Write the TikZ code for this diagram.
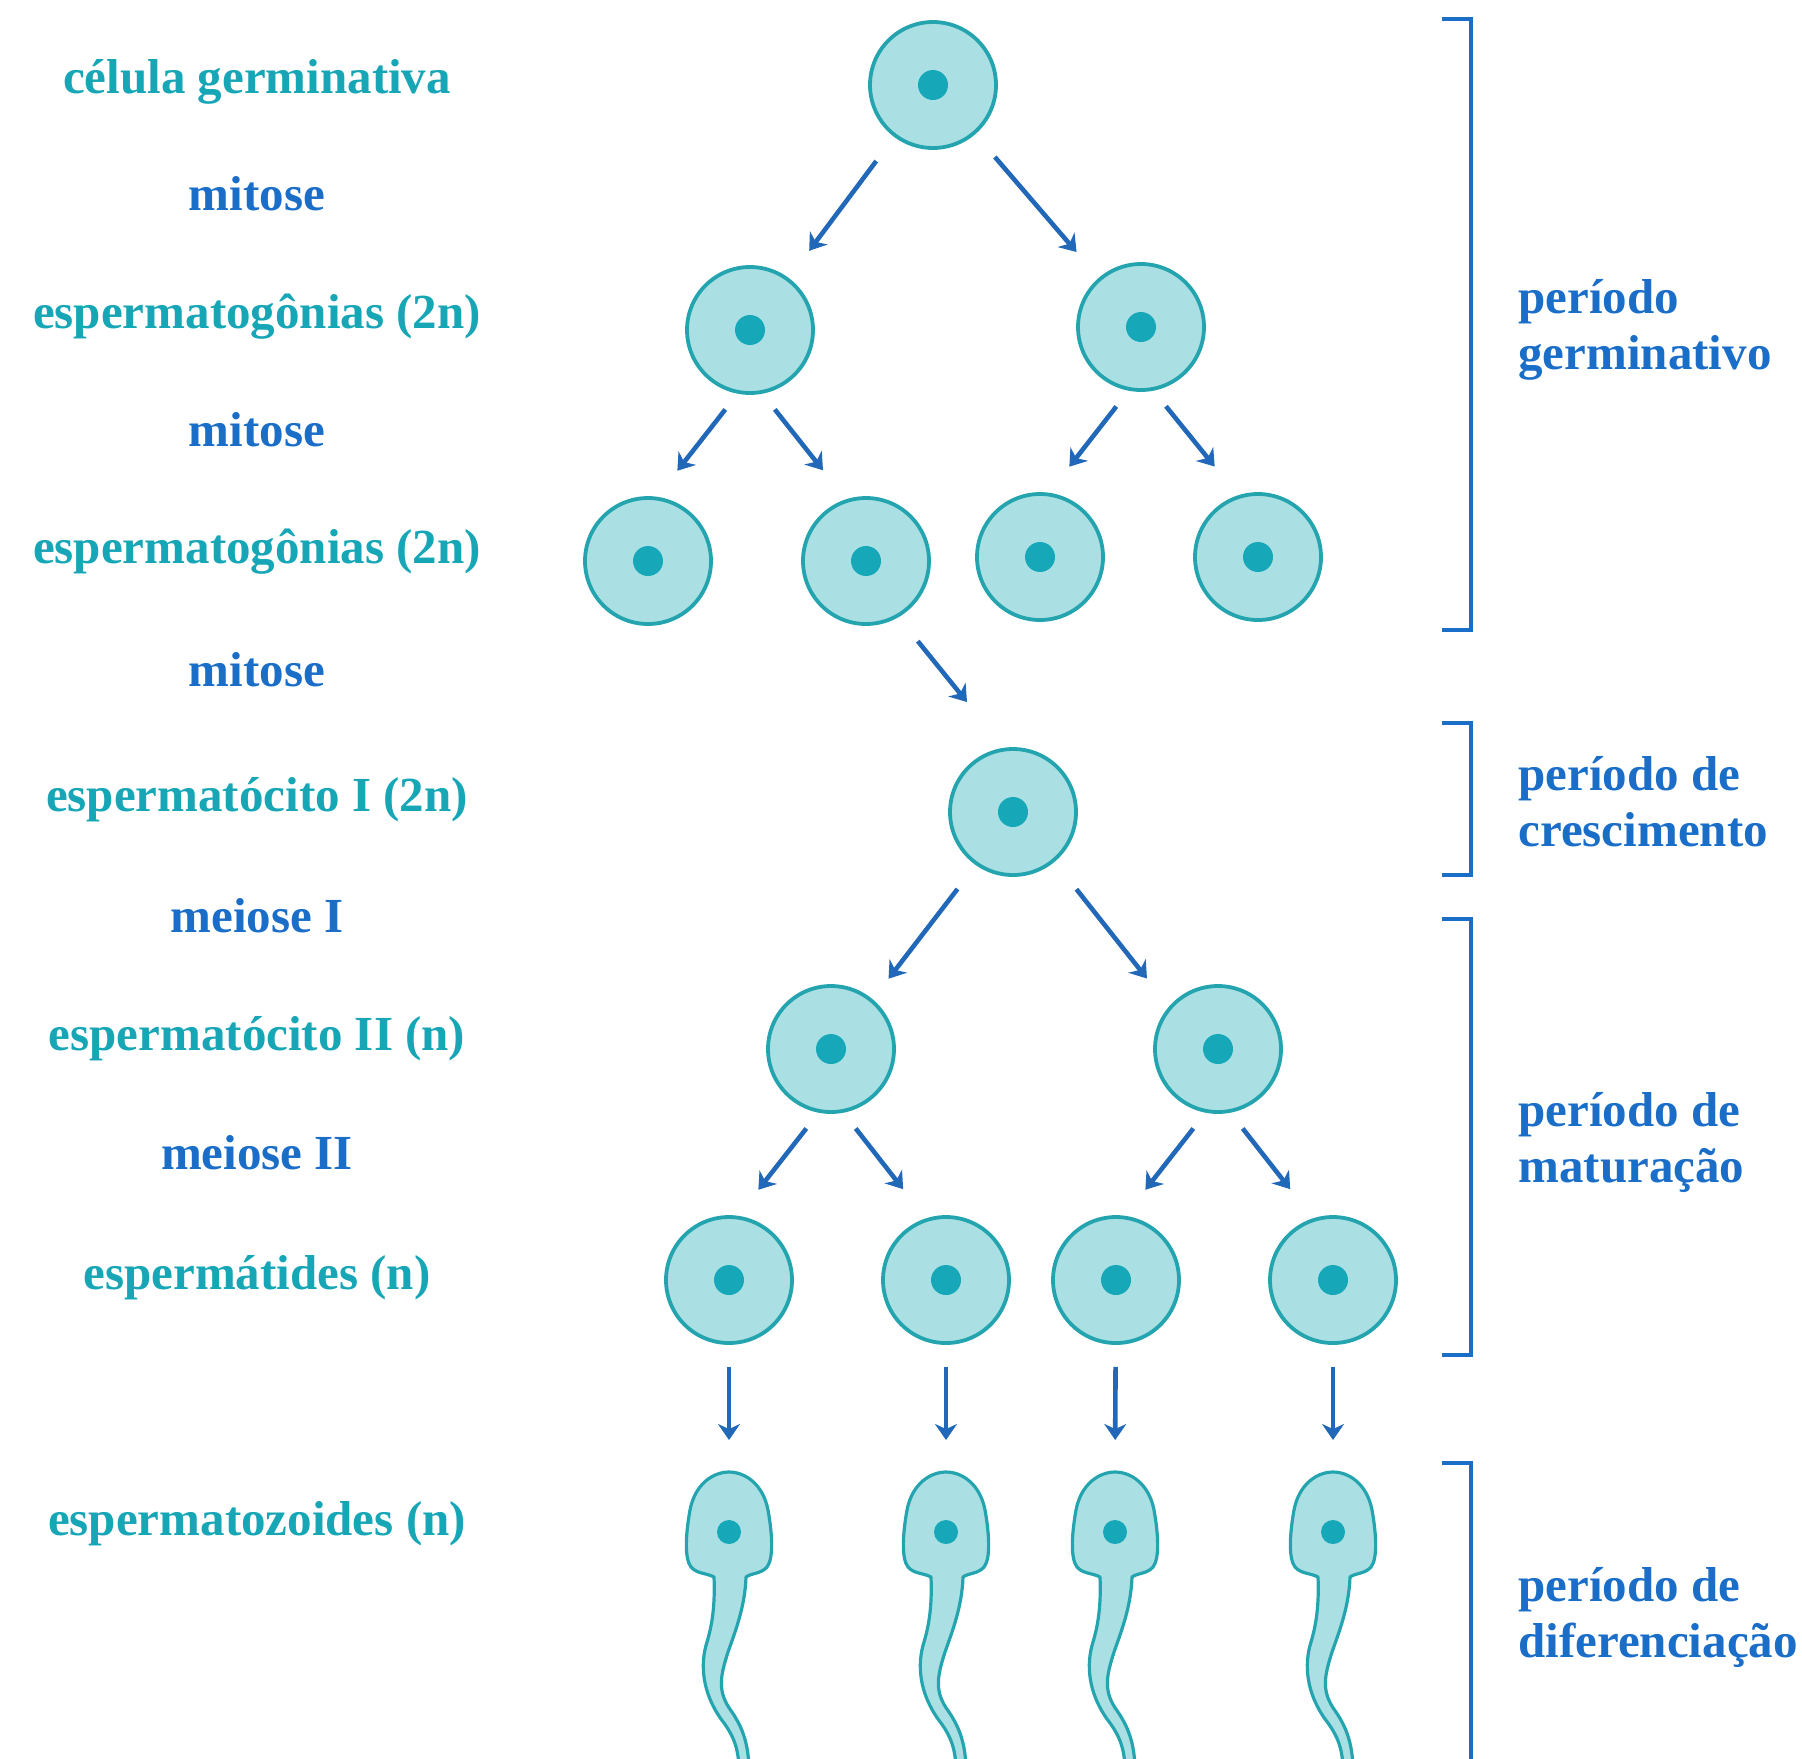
\documentclass[tikz,border=0pt]{standalone}
\usepackage{fontspec}
\setmainfont{Liberation Serif}
\usepackage{tikz}
\usetikzlibrary{arrows.meta}
\definecolor{cellfill}{RGB}{170,224,227}
\definecolor{cellline}{RGB}{36,164,174}
\definecolor{nucleus}{RGB}{22,168,185}
\definecolor{tealtxt}{RGB}{22,166,182}
\definecolor{bluetxt}{RGB}{26,110,200}
\definecolor{arrowc}{RGB}{34,104,184}

\begin{document}
\begin{tikzpicture}[x=0.5pt,y=-0.5pt]
            \tikzstyle{cell}=[circle,draw=cellline,fill=cellfill,line width=1.9pt,minimum size=63pt,inner sep=0pt,
                path picture={\fill[nucleus] (path picture bounding box.center) circle (7.5pt);}]
            \tikzstyle{sperm}=[draw=cellline,fill=cellfill,line width=1.6pt,line join=round]
            \tikzstyle{arr}=[draw=arrowc,line width=2.3pt,-{Stealth[length=8pt,width=11pt,inset=2.5pt]}]
            \tikzstyle{lbl}=[anchor=mid,inner sep=0pt,font=\bfseries\fontsize{24.5}{28}\selectfont]
            \tikzstyle{rlbl}=[anchor=west,align=left,inner sep=0pt,text=bluetxt,font=\bfseries\fontsize{24.5}{28}\selectfont]
            \tikzstyle{bracket}=[draw=bluetxt,line width=2.2pt]
            \useasboundingbox (0,0) rectangle (1802,1758);

                % cells
                \node[cell] (G) at (933,85) {};
                \foreach \num/\x/\y in {1/750/330, 2/1141/327}
                    \node[cell] (S1-\num) at (\x,\y) {};
                \foreach \num/\x/\y in {1/648/561, 2/866/561, 3/1040/557, 4/1258/557}
                    \node[cell] (S2-\num) at (\x,\y) {};
                \node[cell] (E1) at (1013,812) {};
                \foreach \num/\x in {1/831, 2/1218}
                    \node[cell] (E2-\num) at (\x,1049) {};
                \foreach \num/\x in {1/729, 2/946, 3/1116, 4/1333}
                    \node[cell] (T-\num) at (\x,1280) {};

                % spermatozoa
                \foreach \num/\x in {1/729, 2/946, 3/1115, 4/1333} {
                    \coordinate (Z-\num) at (\x,1472);
                    \begin{scope}[shift={(\x,1532)}]
                        \path[sperm] (-15,45) .. controls (-22,41) and (-32,42) .. (-38,35)
                            .. controls (-45,26) and (-43,0) .. (-39,-22)
                            .. controls (-34,-48) and (-16,-60) .. (0,-60)
                            .. controls (16,-60) and (34,-48) .. (39,-22)
                            .. controls (43,0) and (45,26) .. (38,35)
                            .. controls (32,42) and (22,41) .. (17,45)
                            .. controls (16,75) and (6,100) .. (-1,120)
                            .. controls (-9,145) and (-12,160) .. (3,180)
                            .. controls (13,195) and (19,210) .. (20,235)
                            -- (10,235)
                            .. controls (9,212) and (2,200) .. (-8,187)
                            .. controls (-27,160) and (-29,132) .. (-22,110)
                            .. controls (-16,90) and (-14,70) .. (-15,45) -- cycle;
                        \fill[nucleus] (0,0) circle (6pt);
                    \end{scope}
                }

                % arrows
                \foreach \to in {S1-1, S1-2}
                    \draw[arr,shorten <=15pt,shorten >=17pt] (G) -- (\to);
                \foreach \from/\to in {S1-1/S2-1, S1-2/S2-3, E2-1/T-1, E2-2/T-3}
                    \draw[arr,shorten <=10pt,shorten >=16.5pt] (\from.259) -- (\to.82);
                \foreach \from/\to in {S1-1/S2-2, S1-2/S2-4, E2-1/T-2, E2-2/T-4}
                    \draw[arr,shorten <=10pt,shorten >=18.5pt] (\from.281) -- (\to.108);
                \draw[arr,shorten <=15.4pt,shorten >=29.4pt] (S2-2.300) -- (E1.98);
                \draw[arr,shorten <=15pt,shorten >=13pt] (E1.235) -- (E2-1.50);
                \draw[arr,shorten <=17.5pt,shorten >=17.8pt] (E1.310) -- (E2-2.139);
                \foreach \num in {1,...,4}
                    \draw[arr,shorten <=11pt,shorten >=16pt] (T-\num) -- (Z-\num);

                % stage names
                \foreach \y/\c/\t [count=\i] in {89/tealtxt/célula germinativa, 206/bluetxt/mitose,
                        324/tealtxt/espermatogônias (2n), 442/bluetxt/mitose, 559/tealtxt/espermatogônias (2n),
                        682/bluetxt/mitose, 807/tealtxt/espermatócito I (2n), 928/bluetxt/meiose I,
                        1046/tealtxt/espermatócito II (n), 1165/bluetxt/meiose II, 1285/tealtxt/espermátides (n),
                        1531/tealtxt/espermatozoides (n)}
                    \node[lbl,text=\c] (L-\i) at (257,\y) {\t};

                % periods
                \draw[bracket] (1442,19) -- (1471,19) -- (1471,630) -- (1442,630);
                \draw[bracket] (1442,723) -- (1471,723) -- (1471,875) -- (1442,875);
                \draw[bracket] (1442,919) -- (1471,919) -- (1471,1355) -- (1442,1355);
                \draw[bracket] (1442,1463) -- (1471,1463) -- (1471,1770);
                \node[rlbl] (P-1) at (1518,330) {período\\germinativo};
                \node[rlbl] (P-2) at (1518,802) {período de\\crescimento};
                \node[rlbl] (P-3) at (1518,1142) {período de\\maturação};
                \node[rlbl] (P-4) at (1518,1617) {período de\\diferenciação};
        \end{tikzpicture}
\end{document}
